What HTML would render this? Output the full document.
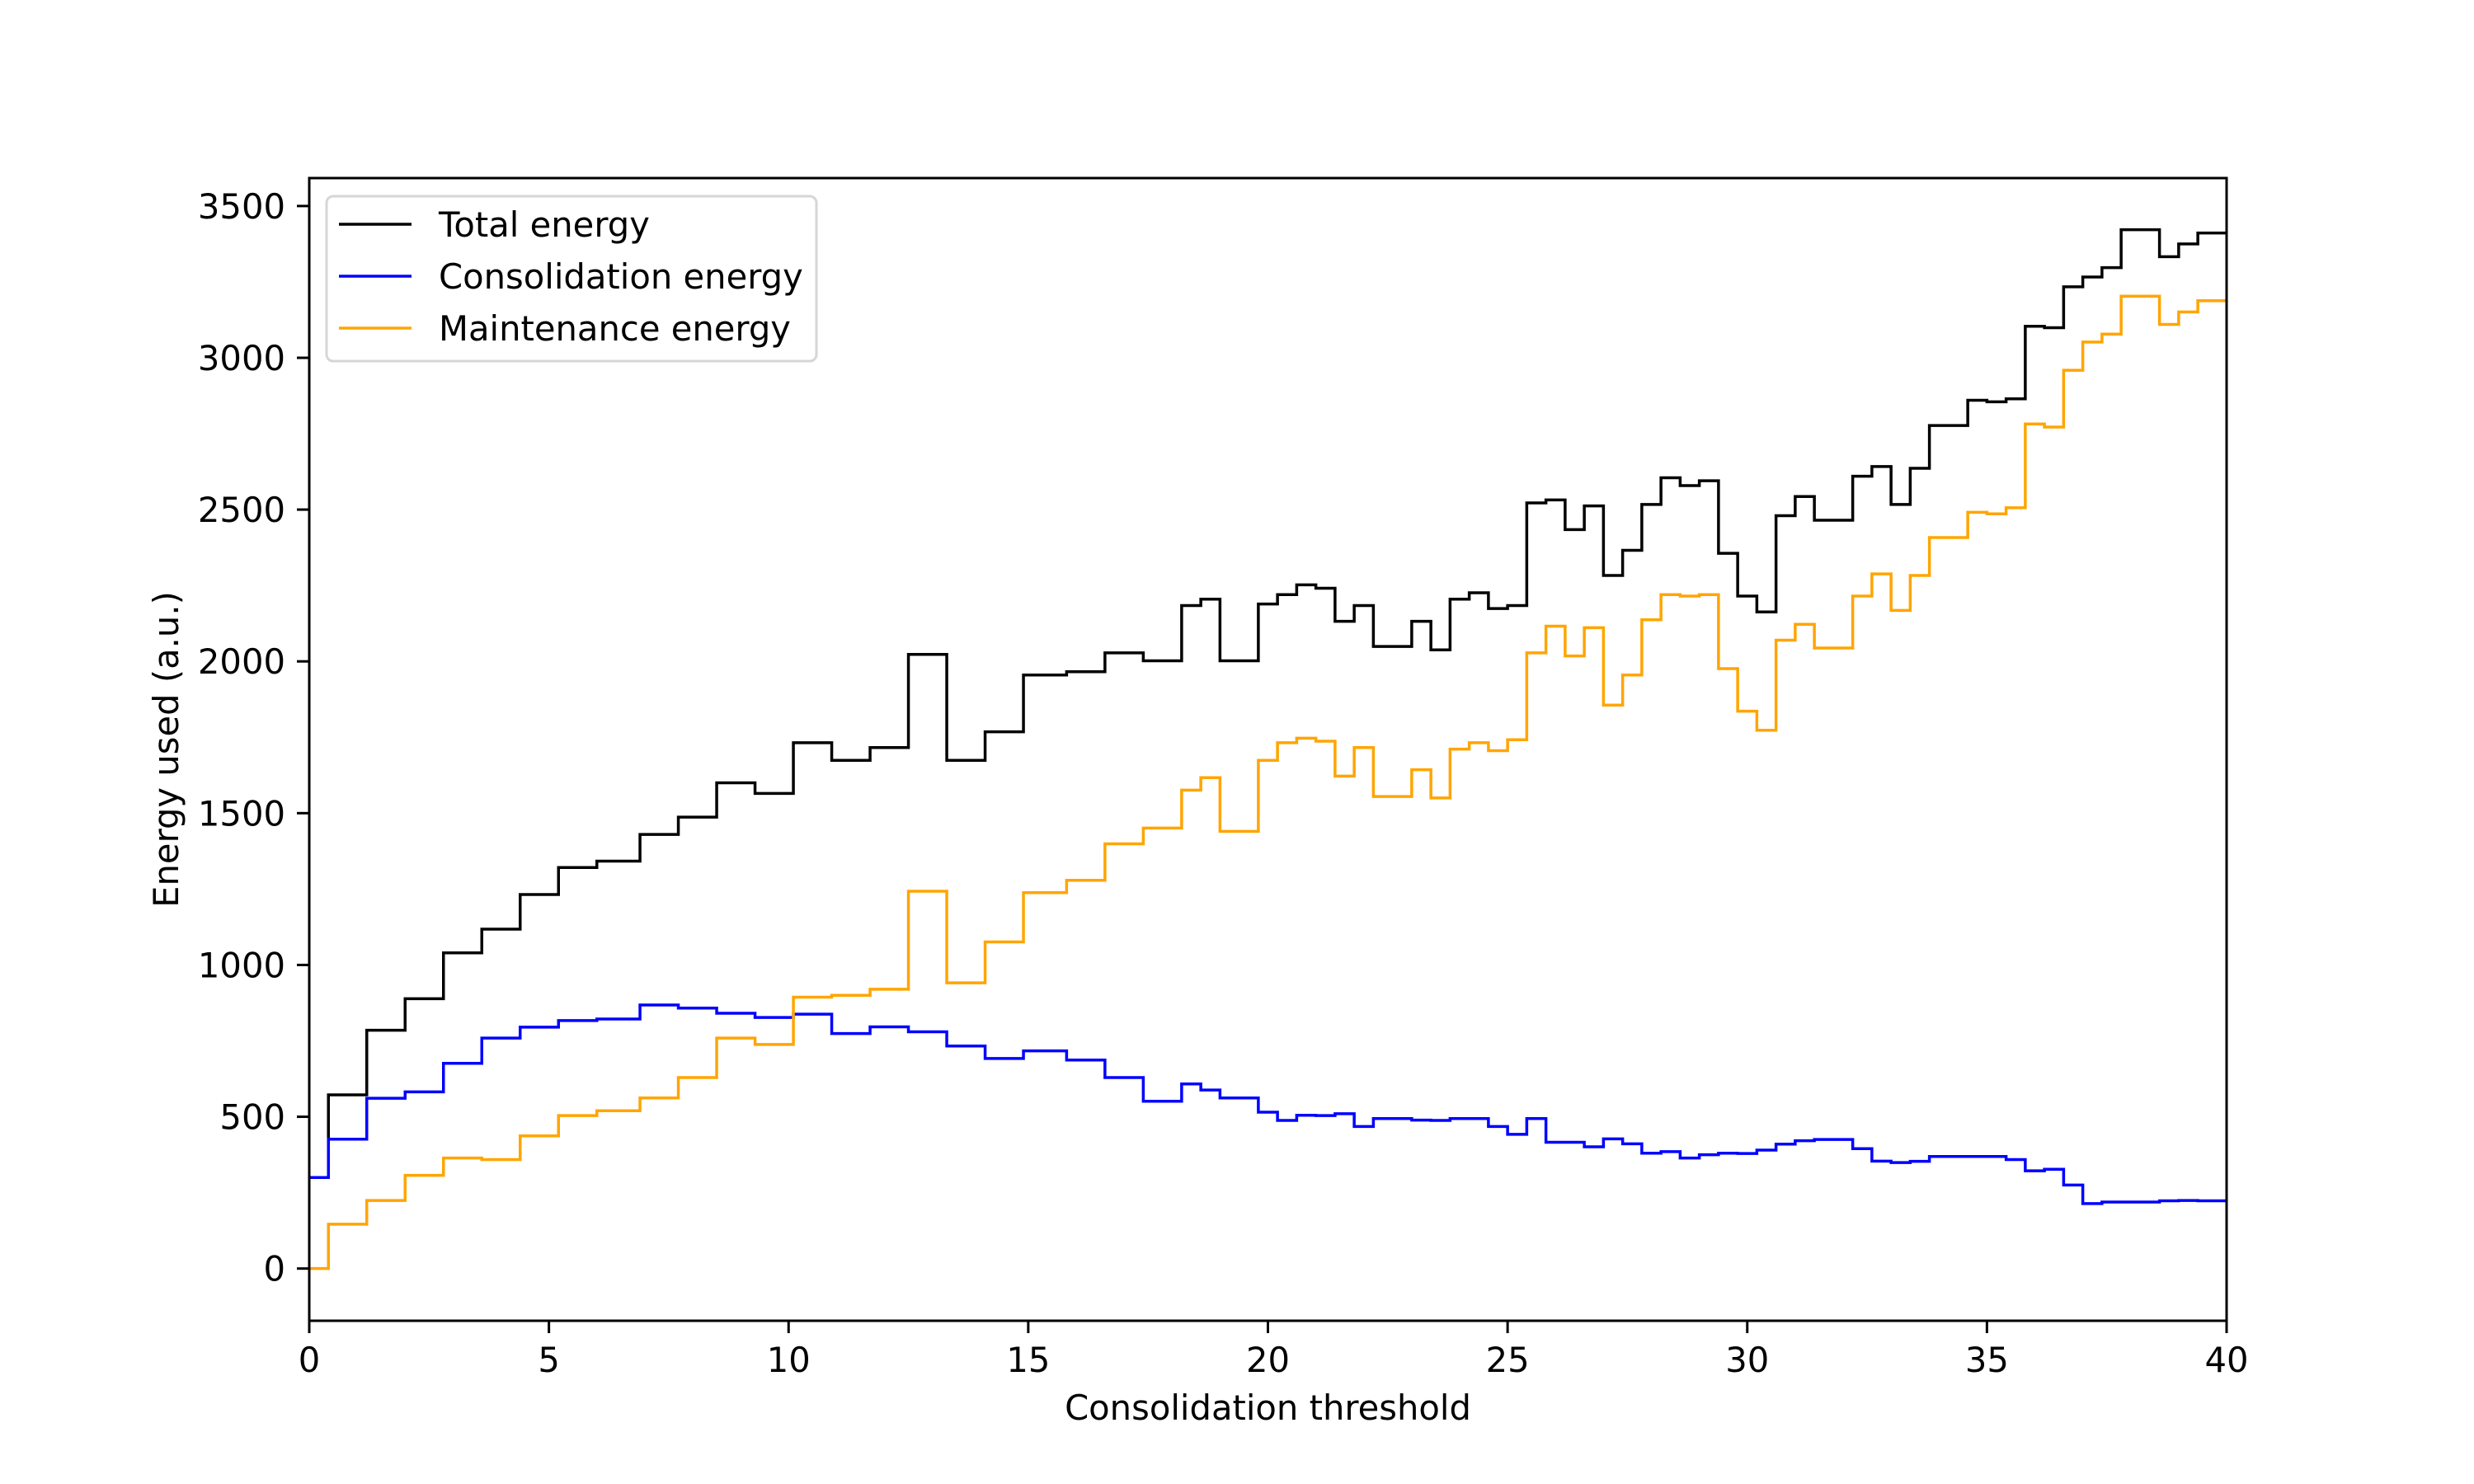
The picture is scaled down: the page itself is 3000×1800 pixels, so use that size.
<!DOCTYPE html>
<html><head><meta charset="utf-8">
<style>
html,body{margin:0;padding:0;background:#fff;}
svg{display:block;}
text{font-family:"DejaVu Sans","Liberation Sans",sans-serif;font-size:41.7px;fill:#000;}
</style></head>
<body>
<svg id="chart" width="3000" height="1800" viewBox="0 0 3000 1800">
<rect width="3000" height="1800" fill="#fff"/>
<g id="series"></g>
<g id="axes"></g>
<g id="legend"></g>
</svg>
<script>
// ---- data ----
const totalX = [0,0.4,1.2,2.0,2.8,3.6,4.4,5.2,6.0,6.9,7.7,8.5,9.3,10.1,10.9,11.7,12.5,13.3,14.1,14.9,15.8,16.6,17.4,18.2,18.6,19.0,19.8,20.2,20.6,21.0,21.4,21.8,22.2,23.0,23.4,23.8,24.2,24.6,25.0,25.4,25.8,26.2,26.6,27.0,27.4,27.8,28.2,28.6,29.0,29.4,29.8,30.2,30.6,31.0,31.4,32.2,32.6,33.0,33.4,33.8,34.6,35.0,35.4,35.8,36.2,36.6,37.0,37.4,37.8,38.6,39.0,39.4];
const totalY = [300,572,785,889,1040,1118,1232,1321,1342,1430,1487,1600,1565,1732,1674,1716,2023,1674,1768,1955,1966,2028,2002,2184,2205,2002,2189,2220,2252,2241,2132,2184,2049,2132,2038,2205,2226,2174,2184,2522,2532,2434,2512,2283,2366,2517,2605,2579,2595,2356,2215,2163,2480,2543,2465,2610,2642,2517,2636,2777,2860,2855,2865,3104,3099,3234,3266,3297,3422,3333,3375,3411];
const maintX = totalX.slice();
const maintY = [0,146,224,307,364,359,437,504,520,562,629,759,738,894,900,920,1243,941,1076,1238,1279,1399,1451,1576,1617,1440,1674,1732,1747,1737,1622,1716,1555,1643,1550,1711,1732,1706,1742,2028,2116,2018,2111,1856,1955,2137,2220,2215,2220,1976,1836,1773,2070,2122,2044,2215,2288,2168,2283,2408,2491,2486,2506,2782,2772,2959,3052,3078,3203,3110,3151,3188];
const consX = totalX.slice();
const consY = [300,426,561,582,676,759,795,817,822,868,858,841,827,838,774,796,780,733,692,717,687,629,551,608,588,562,515,488,505,504,510,468,494,489,488,494,494,468,442,494,416,416,401,427,411,380,385,364,375,380,379,390,410,421,425,395,354,349,353,369,369,369,359,322,327,275,214,219,219,223,224,223];
const xTicks = [0,5,10,15,20,25,30,35,40];
const yTicks = [0,500,1000,1500,2000,2500,3000,3500];
const xMax = 40;

// ---- axes geometry ----
const L=375,R=2700,T=216,B=1602;
const yMin=-172,yMax=3592;
function sx(v){return L+(v-0)/(xMax-0)*(R-L);}
function sy(v){return B-(v-yMin)/(yMax-yMin)*(B-T);}
const NS="http://www.w3.org/2000/svg";
function mk(tag,attrs,parent){const e=document.createElementNS(NS,tag);for(const k in attrs)e.setAttribute(k,attrs[k]);parent.appendChild(e);return e;}

const sg=document.getElementById('series');
function stepPath(xs,ys){
  let d='M'+sx(xs[0])+','+sy(ys[0]);
  for(let i=0;i<xs.length;i++){
    const xe = i+1<xs.length?xs[i+1]:xMax;
    d+=' L'+sx(xe)+','+sy(ys[i]);
    if(i+1<xs.length) d+=' L'+sx(xe)+','+sy(ys[i+1]);
  }
  return d;
}
const p1=mk('path',{d:stepPath(totalX,totalY),fill:'none',stroke:'#000','stroke-width':3.5},sg);


const p2=mk('path',{d:stepPath(consX,consY),fill:'none',stroke:'#0000ff','stroke-width':3.5},sg);


const p3=mk('path',{d:stepPath(maintX,maintY),fill:'none',stroke:'#ffa500','stroke-width':3.5},sg);



const ag=document.getElementById('axes');
const frame=mk('rect',{x:L,y:T,width:R-L,height:B-T,fill:'none',stroke:'#000','stroke-width':3},ag);


xTicks.forEach(v=>{
  const t=mk('line',{x1:sx(v),x2:sx(v),y1:B,y2:B+15,stroke:'#000','stroke-width':3},ag);
  
  
  const tx=mk('text',{x:sx(v),y:1664,'text-anchor':'middle'},ag);
  tx.textContent=v;
  
  
});
yTicks.forEach(v=>{
  const t=mk('line',{x1:L-15,x2:L,y1:sy(v),y2:sy(v),stroke:'#000','stroke-width':3},ag);
  
  
  const tx=mk('text',{x:346,y:sy(v)+15,'text-anchor':'end'},ag);
  tx.textContent=v;
  
  
});
const xt=mk('text',{x:(L+R)/2,y:1722,'text-anchor':'middle'},ag);
xt.textContent='Consolidation threshold';


const yt=mk('text',{x:0,y:0,'text-anchor':'middle',transform:'translate(216,'+((T+B)/2)+') rotate(-90)'},ag);
yt.textContent='Energy used (a.u.)';



const lg=document.getElementById('legend');
const box=mk('rect',{x:396,y:238,width:594,height:200,rx:8,fill:'#fff','fill-opacity':0.8,stroke:'#d6d6d6','stroke-width':3},lg);


const entries=[['Total energy','#000',272],['Consolidation energy','#0000ff',335],['Maintenance energy','#ffa500',398]];
entries.forEach(e=>{
  const ln=mk('line',{x1:411,x2:499,y1:e[2],y2:e[2],stroke:e[1],'stroke-width':3.5},lg);
  
  
  const tx=mk('text',{x:532,y:e[2]+15},lg);
  tx.textContent=e[0];
  
  
});
</script>
</body></html>
